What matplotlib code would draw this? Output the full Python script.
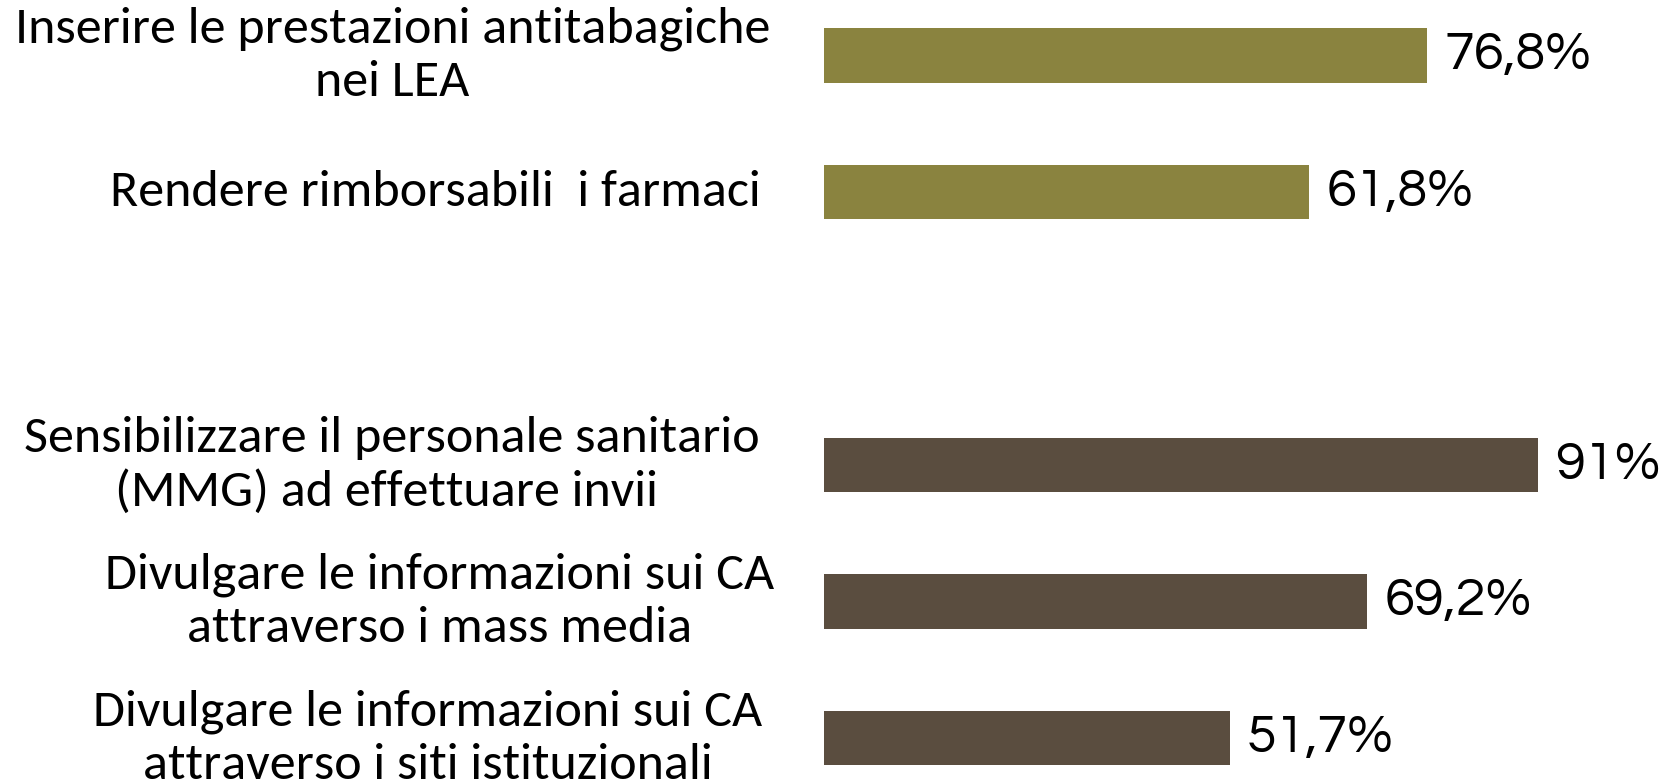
import matplotlib.pyplot as plt

# dati
labels = [
    "Inserire le prestazioni antitabagiche\nnei LEA",
    "Rendere rimborsabili  i farmaci",
    "Sensibilizzare il personale sanitario\n(MMG) ad effettuare invii ",
    "Divulgare le informazioni sui CA\nattraverso i mass media",
    "Divulgare le informazioni sui CA\nattraverso i siti istituzionali",
]
values = [76.8, 61.8, 91, 69.2, 51.7]
value_text = ["76,8%", "61,8%", "91%", "69,2%", "51,7%"]
positions = [0, 1, 3, 4, 5]
colors = ["#8a833f", "#8a833f", "#5a4d3f", "#5a4d3f", "#5a4d3f"]

# centro orizzontale di ogni etichetta (unita' dati, a sinistra delle barre)
label_x = [-55, -49.5, -55, -49, -50.5]

W, H = 1675, 784
fig = plt.figure(figsize=(W / 100, H / 100), dpi=100)
left = 824 / W
ax = fig.add_axes([left, 0, 1 - left, 1])
ax.axis('off')

ax.barh(positions, values, height=0.4, color=colors)
ax.set_xlim(0, (W - 824) / 7.85)
ax.set_ylim(5.337, -0.406)

for p, v, t in zip(positions, values, value_text):
    ax.text(v + 2.2, p, t, va='center', ha='left', fontsize=39,
            family=['Questrial', 'Jost', 'Lato'], color='black')

for p, lx, lab in zip(positions, label_x, labels):
    ax.text(lx, p, lab, va='center', ha='center', multialignment='center',
            fontsize=37.5, family=['Carlito', 'Open Sans', 'DejaVu Sans'],
            color='black', linespacing=1.26, clip_on=False)

fig.savefig('out.png', dpi=100)
